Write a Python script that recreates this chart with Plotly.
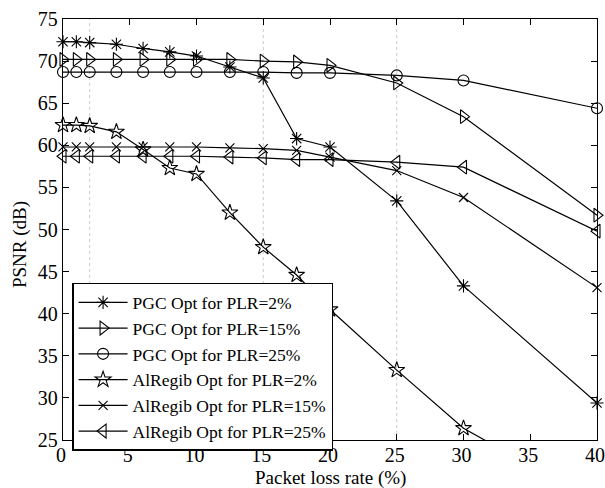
import plotly.graph_objects as go

plr = [0, 1, 2, 4, 6, 8, 10, 12.5, 15, 17.5, 20, 25, 30, 40]

pgc_2 = [72.3, 72.3, 72.2, 72.0, 71.5, 71.1, 70.6, 69.3, 68.0, 60.8, 59.8, 53.4, 43.3, 29.4]
pgc_15 = [70.2, 70.2, 70.2, 70.2, 70.2, 70.2, 70.2, 70.2, 70.0, 69.9, 69.5, 67.4, 63.4, 51.7]
pgc_25 = [68.7, 68.7, 68.7, 68.7, 68.7, 68.7, 68.7, 68.7, 68.7, 68.6, 68.6, 68.3, 67.7, 64.4]
alr_2 = [62.4, 62.4, 62.3, 61.6, 59.5, 57.3, 56.6, 52.0, 47.9, 44.6, 40.5, 33.3, 26.4, 17.5]
alr_15 = [59.8, 59.8, 59.8, 59.8, 59.8, 59.8, 59.8, 59.7, 59.6, 59.4, 58.6, 57.0, 53.8, 43.1]
alr_25 = [58.7, 58.7, 58.7, 58.7, 58.7, 58.7, 58.7, 58.6, 58.5, 58.3, 58.3, 58.0, 57.4, 49.8]

names = ["PGC Opt for PLR=2%", "PGC Opt for PLR=15%", "PGC Opt for PLR=25%",
         "AlRegib Opt for PLR=2%", "AlRegib Opt for PLR=15%", "AlRegib Opt for PLR=25%"]
series = [pgc_2, pgc_15, pgc_25, alr_2, alr_15, alr_25]
symbols = ["asterisk-open", "triangle-right-open", "circle-open",
           "star-open", "x-thin-open", "triangle-left-open"]
sizes = [11, 12, 11, 12, 9, 12]

ref_lines = [2, 15, 25]
x_ticks = [0, 5, 10, 15, 20, 25, 30, 35, 40]
y_ticks = [25, 30, 35, 40, 45, 50, 55, 60, 65, 70, 75]

font = "Liberation Serif, Times New Roman, serif"

fig = go.Figure()
for n, s, sym, sz in zip(names, series, symbols, sizes):
    fig.add_trace(go.Scatter(
        x=plr, y=s, name=n, mode="lines+markers", cliponaxis=False,
        line=dict(color="black", width=1.2),
        marker=dict(symbol=sym, size=sz, color="black",
                    line=dict(color="black", width=1.1)),
    ))

for xv in ref_lines:
    fig.add_shape(type="line", x0=xv, x1=xv, y0=25, y1=75, xref="x", yref="y",
                  line=dict(color="#c9c9d6", width=1, dash="dot"), layer="below")

axis_common = dict(showgrid=False, zeroline=False, showline=True, linecolor="black",
                   linewidth=1.3, mirror="ticks", ticks="inside", ticklen=6,
                   tickcolor="black", tickwidth=1, automargin=False,
                   ticklabeloverflow="allow",
                   tickfont=dict(family=font, size=20, color="black"))

fig.update_xaxes(range=[0, 40], tickvals=x_ticks, ticklabelstandoff=-3,
                 ticklabelshift=-2, **axis_common)
fig.update_yaxes(range=[25, 75], tickvals=y_ticks, **axis_common)

fig.add_annotation(text="Packet loss rate (%)", xref="paper", yref="paper",
                   x=0.5, y=-0.09, xanchor="center", yanchor="middle", showarrow=False,
                   font=dict(family=font, size=19, color="black"))
fig.add_annotation(text="PSNR (dB)", xref="paper", yref="paper",
                   x=-0.0805, y=0.463, xanchor="center", yanchor="middle", showarrow=False,
                   textangle=-90, font=dict(family=font, size=19, color="black"))

fig.update_layout(
    width=605, height=488,
    margin=dict(l=63, r=8, t=19, b=48),
    plot_bgcolor="white", paper_bgcolor="white",
    font=dict(family=font, size=16, color="black"),
    legend=dict(x=0.017, y=0.373, xanchor="left", yanchor="top",
                bgcolor="white", bordercolor="black", borderwidth=1.5,
                font=dict(family=font, size=17.5, color="black"),
                tracegroupgap=0, itemwidth=49,
                entrywidth=230, entrywidthmode="pixels"),
    showlegend=True,
)

fig.write_html("out.html", config={"displayModeBar": False},
               post_script="document.body.style.margin='0';document.body.style.overflow='hidden';")
